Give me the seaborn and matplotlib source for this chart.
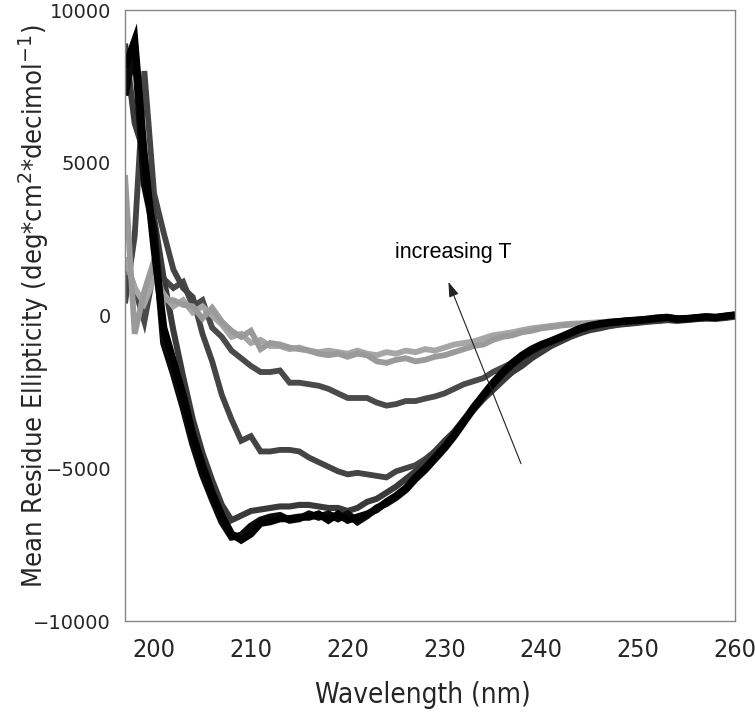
import numpy as np
import pandas as pd
import matplotlib
matplotlib.use('Agg')
import matplotlib.pyplot as plt
from matplotlib.ticker import MultipleLocator
import seaborn as sns

# comprimento de onda (nm), passo de 1 nm
wl = np.arange(197, 261)

# curvas de CD a diferentes temperaturas
c_black1 = [8100, 9000, 5200, 2200, -400, -1500, -2600, -3900, -4900, -5800, -6550, -7150, -7350, -7150,
            -6800, -6750, -6650, -6650, -6600, -6600, -6500, -6700, -6500, -6700, -6600, -6500, -6350, -6100,
            -5900, -5650, -5300, -5000, -4650, -4300, -3900, -3450, -3000, -2600, -2200, -1850, -1550, -1300,
            -1100, -950, -830, -700, -560, -420, -330, -270, -230, -200, -170, -150, -120, -80, -60, -110,
            -100, -70, -40, -60, -20, 20]
c_black2 = [7200, 8800, 4300, 2800, -900, -1900, -3000, -4200, -5200, -6000, -6750, -7250, -7200, -6900,
            -6700, -6600, -6550, -6700, -6650, -6500, -6600, -6500, -6650, -6500, -6750, -6550, -6300, -6150,
            -5950, -5700, -5350, -5050, -4700, -4350, -3950, -3500, -3050, -2650, -2250, -1900, -1600, -1350,
            -1150, -980, -850, -720, -590, -450, -350, -290, -240, -210, -180, -160, -130, -100, -70, -120,
            -110, -80, -50, -70, -30, 10]
c_gray5 = [8900, 6300, 5300, 3200, 1200, -500, -2000, -3400, -4500, -5400, -6200, -6700, -6550, -6400,
           -6350, -6300, -6250, -6250, -6200, -6200, -6250, -6300, -6300, -6400, -6300, -6100, -6000, -5800,
           -5600, -5350, -5100, -4800, -4450, -4150, -3800, -3400, -3050, -2700, -2400, -2100, -1850, -1650,
           -1400, -1200, -1000, -850, -700, -580, -480, -420, -350, -300, -270, -240, -200, -180, -150, -170,
           -150, -120, -100, -110, -80, -40]
c_gray4 = [400, 2600, 8000, 4000, 2700, 1500, 900, 600, -600, -1500, -2600, -3400, -4100, -3950,
           -4450, -4450, -4400, -4400, -4450, -4650, -4800, -4950, -5100, -5200, -5150, -5200, -5250, -5300,
           -5100, -5000, -4900, -4700, -4450, -4100, -3800, -3450, -3100, -2750, -2450, -2150, -1850, -1600,
           -1350, -1150, -950, -800, -650, -530, -450, -400, -340, -290, -260, -220, -190, -160, -130, -160,
           -130, -100, -80, -90, -60, -30]
c_gray3 = [1800, 900, -200, 1500, 1200, 900, 1100, 300, 500, -400, -700, -1150, -1400, -1650,
           -1850, -1850, -1800, -2200, -2200, -2250, -2300, -2400, -2550, -2700, -2700, -2700, -2850, -2950,
           -2900, -2800, -2800, -2720, -2650, -2550, -2400, -2250, -2150, -2050, -1850, -1700, -1550, -1400,
           -1250, -1100, -950, -800, -650, -520, -430, -380, -330, -280, -250, -220, -200, -170, -140, -170,
           -140, -110, -90, -100, -70, -30]
c_light1 = [4600, -600, 800, 1800, 500, 500, 350, 300, -100, 250, -200, -500, -700, -500,
            -1100, -900, -950, -1050, -1100, -1150, -1250, -1300, -1250, -1350, -1250, -1300, -1500, -1550,
            -1450, -1400, -1500, -1450, -1350, -1300, -1200, -1100, -1000, -950, -800, -700, -650, -550,
            -500, -420, -380, -330, -300, -280, -260, -230, -200, -190, -160, -140, -120, -100, -90, -120,
            -100, -80, -60, -70, -40, -10]
c_light2 = [1900, 900, 400, 1200, 700, 300, 500, 100, 300, 0, -300, -700, -600, -900,
            -800, -1000, -1000, -1100, -1050, -1150, -1200, -1150, -1200, -1250, -1150, -1250, -1300, -1200,
            -1250, -1150, -1200, -1100, -1150, -1050, -950, -900, -850, -750, -650, -600, -550, -480,
            -420, -380, -340, -300, -270, -260, -240, -220, -200, -180, -150, -130, -110, -90, -80, -110,
            -90, -70, -50, -60, -30, 0]

curvas = [
    (c_gray3, '#4a4a4a', 4.2),
    (c_gray4, '#444444', 4.2),
    (c_gray5, '#3a3a3a', 4.4),
    (c_light2, '#a6a6a6', 4.2),
    (c_light1, '#9a9a9a', 4.2),
    (c_black2, '#0a0a0a', 5.2),
    (c_black1, '#000000', 5.2),
]

sns.set_style('white')
fig = plt.figure(figsize=(7.55, 7.12), dpi=100)
ax = fig.add_axes([125 / 755, 1 - 621 / 712, 610 / 755, 611 / 712])

for valores, cor, lw in curvas:
    sns.lineplot(x=wl, y=valores, color=cor, linewidth=lw, ax=ax,
                 solid_joinstyle='miter', solid_capstyle='butt')

ax.set_xlim(197, 260)
ax.set_ylim(-10000, 10000)

# eixos e ticks
for lado in ['left', 'bottom', 'top', 'right']:
    ax.spines[lado].set_color('#888888')
    ax.spines[lado].set_linewidth(1.0)

ax.xaxis.set_major_locator(MultipleLocator(10))
ax.xaxis.set_minor_locator(MultipleLocator(2))
ax.yaxis.set_major_locator(MultipleLocator(5000))
ax.yaxis.set_minor_locator(MultipleLocator(1000))
ax.tick_params(which='major', direction='inout', length=16, width=0.8, color='#777777')
ax.tick_params(which='minor', direction='in', length=5, width=0.8, color='#777777')
ax.tick_params(top=False, right=False, which='both')
ax.tick_params(axis='x', pad=4)
ax.tick_params(axis='y', pad=2)

# fonte estreita para eixo x e rotulos
estreita = dict(family='DejaVu Sans', stretch='condensed')

for lab in ax.get_xticklabels():
    lab.set_family('DejaVu Sans')
    lab.set_stretch('condensed')
    lab.set_fontsize(18)
for lab in ax.get_yticklabels():
    lab.set_family('DejaVu Sans')
    lab.set_fontsize(14)

ax.set_xlabel('Wavelength (nm)', fontsize=20, **estreita)
ax.xaxis.set_label_coords(0.489, -0.098)
ax.set_ylabel('Mean Residue Ellipticity (deg*cm$^2$*decimol$^{-1}$)',
              fontsize=19.5, **estreita)
ax.yaxis.set_label_coords(-0.122, 0.515)

# seta "increasing T"
ax.annotate('', xy=(230.4, 1100), xytext=(237.9, -4850),
            arrowprops=dict(arrowstyle='-|>,head_length=0.9,head_width=0.3', lw=0.8,
                            color='#222222', shrinkA=0, shrinkB=0))
ax.text(224.9, 2050, 'increasing T', family='Liberation Sans', fontsize=15.5,
        ha='left', va='center', color='black')

plt.savefig('out.png', dpi=100)
